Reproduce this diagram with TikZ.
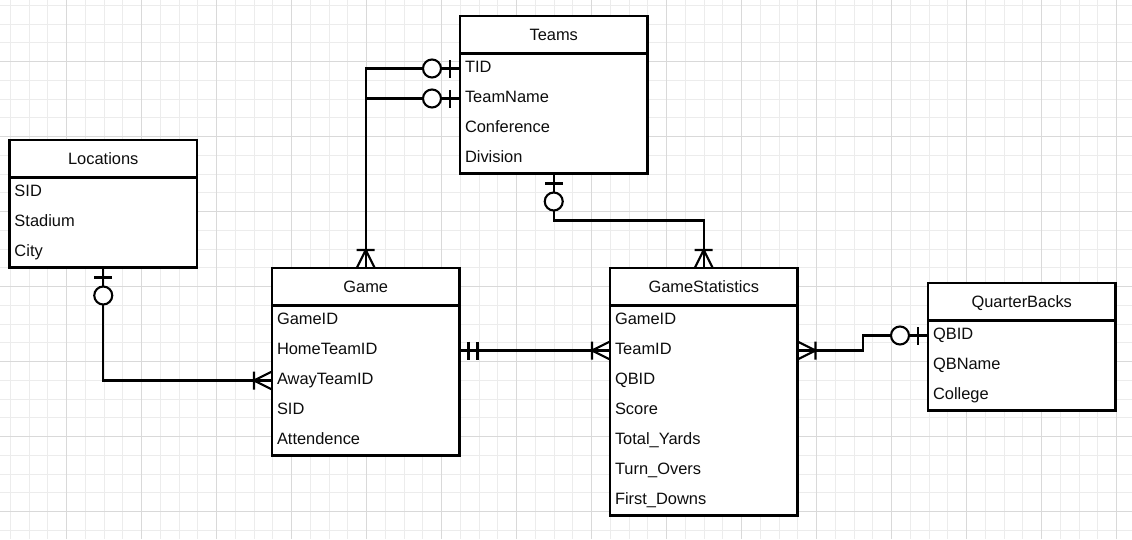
\documentclass[tikz,border=0pt]{standalone}
\usepackage{fontspec}
\setmainfont{Liberation Sans}
\usetikzlibrary{calc}
\definecolor{ErdPaper}{gray}{1}
\definecolor{ErdInk}{gray}{0}
\definecolor{ErdText}{gray}{0.05}
\definecolor{ErdGridMinor}{gray}{0.925}
\definecolor{ErdGridMajor}{gray}{0.85}
\newcommand\erdfont{\fontsize{9.35pt}{11pt}\selectfont}
\tikzset{
    erd/diagram/.style={
        x=0.02cm, y=-0.02cm,
        font=\erdfont,
        text=ErdText,
        line width=1.2pt,
        line cap=butt,
        line join=miter,
        every node/.style={outer sep=0pt}
    },
    erd/grid minor/.style={draw=ErdGridMinor, line width=0.55pt},
    erd/grid major/.style={draw=ErdGridMajor, line width=0.55pt},
    erd/head/.style={
        draw=ErdInk, fill=ErdPaper, anchor=north west,
        minimum width=3.75cm, minimum height=0.75cm,
        inner sep=0pt, text height=6.7pt, text depth=0pt
    },
    erd/body/.style={
        draw=ErdInk, fill=ErdPaper, anchor=north west,
        minimum width=3.75cm, inner sep=0pt
    },
    erd/attr/.style={
        anchor=west, inner xsep=0.1cm, inner ysep=0pt,
        text height=6.7pt, text depth=1.6pt
    },
    erd/link/.style={draw=ErdInk, line width=1.2pt},
    erd/one/.pic={
        \draw[erd/link] (9,-9) -- (9,9) (18,-9) -- (18,9);
    },
    erd/many/.pic={
        \draw[erd/link] (18,-9) -- (18,9) (0,-9) -- (18,0) -- (0,9);
    },
    erd/zero one/.pic={
        \draw[erd/link] (10,-9) -- (10,9);
        \draw[erd/link, fill=ErdPaper] (28,0) circle[radius=9];
    }
}

\begin{document}
\begin{tikzpicture}[erd/diagram]
    \def\ErdTable#1#2#3#4#5{
        \node[erd/head] (#1) at #2 {#3};
        \node[erd/body, minimum height=#4*0.6cm] (#1-body) at (#1.south west) {};
        \foreach \attr [count=\row] in {#5}
            \node[erd/attr] (#1-\row) at ($(#1.south west)+(0,30*\row-15)$) {\attr};
    }
    \useasboundingbox (0,0) rectangle (1132,539);
    \fill[ErdPaper] (0,0) rectangle (1132,539);
    \begin{scope}[shift={(10.45,5.45)}]
        \draw[erd/grid minor, step=0.375cm] (-10.45,533.55) grid (1121.55,-5.45);
    \end{scope}
    \begin{scope}[shift={(66.7,61.7)}]
        \draw[erd/grid major, step=1.5cm] (-66.7,477.3) grid (1065.3,-61.7);
    \end{scope}

    \ErdTable{Teams}{(460,16)}{Teams}{4}{TID,TeamName,Conference,Division}
    \ErdTable{Locations}{(9.5,140)}{Locations}{3}{SID,Stadium,City}
    \ErdTable{Game}{(272,268)}{Game}{5}{GameID,HomeTeamID,AwayTeamID,SID,Attendence}
    \ErdTable{GameStatistics}{(610,268)}{GameStatistics}{7}{GameID,TeamID,QBID,Score,Total\_Yards,Turn\_Overs,First\_Downs}
    \ErdTable{QuarterBacks}{(928,283)}{QuarterBacks}{3}{QBID,QBName,College}

    \draw[erd/link] (Teams-1.west) -| (Game.north);
    \draw[erd/link] (Teams-2.west) -- (Teams-2.west -| Game.north);
    \draw[erd/link] (Teams-body.south) -- ++(0,47) -| (GameStatistics.north);
    \draw[erd/link] (Locations-body.south) |- (Game-3.west);
    \draw[erd/link] (Game-body.east |- Game-2.west) -- (GameStatistics-2.west);
    \coordinate (QBJoint) at ($(GameStatistics-body.east |- GameStatistics-2.west)!0.5!(QuarterBacks-1.west)$);
    \draw[erd/link] (GameStatistics-body.east |- GameStatistics-2.west) -| (QBJoint) |- (QuarterBacks-1.west);

    \pic[rotate=180] at (Teams-1.west) {erd/zero one};
    \pic[rotate=180] at (Teams-2.west) {erd/zero one};
    \pic[rotate=90] at (Game.north) {erd/many};
    \pic[rotate=-90] at (Teams-body.south) {erd/zero one};
    \pic[rotate=90] at (GameStatistics.north) {erd/many};
    \pic[rotate=-90] at (Locations-body.south) {erd/zero one};
    \pic[rotate=180] at (Game-3.west) {erd/many};
    \pic at (Game-body.east |- Game-2.west) {erd/one};
    \pic[rotate=180] at (GameStatistics-2.west) {erd/many};
    \pic at (GameStatistics-body.east |- GameStatistics-2.west) {erd/many};
    \pic[rotate=180] at (QuarterBacks-1.west) {erd/zero one};
\end{tikzpicture}
\end{document}
